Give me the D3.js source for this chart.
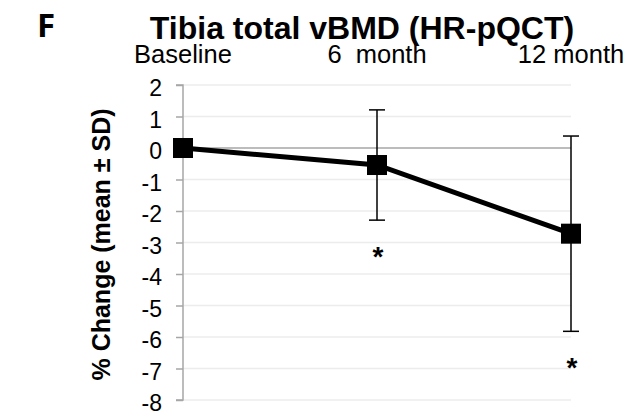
<!DOCTYPE html>
<html>
<head>
<meta charset="utf-8">
<script src="https://cdn.jsdelivr.net/npm/d3@7"></script>
<style>
  html, body { margin: 0; padding: 0; background: #fff; }
  svg { display: block; }
</style>
</head>
<body>
<svg id="chart" width="641" height="413"></svg>
<script>
// Time points, mean % change and SD for tibia total vBMD
const timepoints = ["Baseline", "6  month", "12 month"];
const meanChange = [0, -0.54, -2.72];
const sdChange = [0, 1.75, 3.1];
const significance = ["", "*", "*"];
const yTicks = [2, 1, 0, -1, -2, -3, -4, -5, -6, -7, -8];

const svg = d3.select("#chart");
const font = "Liberation Sans, Arial, sans-serif";

const x = d3.scalePoint().domain(timepoints).range([183, 571]);
const y = d3.scaleLinear().domain([-8, 2]).range([400, 85]);

// Light horizontal gridlines
svg.append("g")
  .selectAll("line")
  .data(yTicks.filter(d => d !== 0))
  .join("line")
  .attr("x1", x.range()[0]).attr("x2", x.range()[1])
  .attr("y1", d => y(d)).attr("y2", d => y(d))
  .attr("stroke", "#ececec").attr("stroke-width", 1.5);

// Zero reference line
svg.append("line")
  .attr("x1", x.range()[0]).attr("x2", x.range()[1])
  .attr("y1", y(0)).attr("y2", y(0))
  .attr("stroke", "#a6a6a6").attr("stroke-width", 1.5);

// Y axis
const yAxis = d3.axisLeft(y).tickValues(yTicks).tickSize(7).tickPadding(14)
  .tickFormat(d => d < 0 ? "-" + Math.abs(d) : String(d));
const gy = svg.append("g").attr("transform", `translate(${x.range()[0]},0)`).call(yAxis);
gy.select(".domain").attr("stroke", "#a6a6a6").attr("stroke-width", 1.5)
  .attr("d", `M-7,${y(2)}H0V${y(-8)}H-7`);
gy.selectAll(".tick line").attr("stroke", "#a6a6a6").attr("stroke-width", 1.5);
gy.selectAll(".tick text")
  .attr("font-family", font).attr("font-size", 23).attr("fill", "#000")
  .attr("dy", "0.47em");

// Time point labels along the top
svg.append("g")
  .selectAll("text")
  .data(timepoints)
  .join("text")
  .attr("x", d => x(d)).attr("y", 63)
  .attr("text-anchor", "middle")
  .attr("font-family", font).attr("font-size", 25.5)
  .style("white-space", "pre")
  .attr("xml:space", "preserve")
  .text(d => d);

// Error bars
const eb = svg.append("g").attr("stroke", "#000").attr("stroke-width", 1.5);
timepoints.forEach((t, i) => {
  if (sdChange[i] === 0) return;
  const cx = x(t);
  const hi = y(meanChange[i] + sdChange[i]);
  const lo = y(meanChange[i] - sdChange[i]);
  eb.append("line").attr("x1", cx).attr("x2", cx).attr("y1", hi).attr("y2", lo);
  eb.append("line").attr("x1", cx - 8).attr("x2", cx + 8).attr("y1", hi).attr("y2", hi);
  eb.append("line").attr("x1", cx - 8).attr("x2", cx + 8).attr("y1", lo).attr("y2", lo);
});

// Mean line
const line = d3.line().x((d, i) => x(timepoints[i])).y(d => y(d));
svg.append("path")
  .datum(meanChange)
  .attr("d", line)
  .attr("fill", "none").attr("stroke", "#000").attr("stroke-width", 5);

// Square markers
svg.append("g")
  .selectAll("rect")
  .data(meanChange)
  .join("rect")
  .attr("x", (d, i) => x(timepoints[i]) - 10)
  .attr("y", d => y(d) - 10)
  .attr("width", 20).attr("height", 20)
  .attr("fill", "#000");

// Significance markers below the lower error bars
svg.append("g")
  .selectAll("text")
  .data(significance)
  .join("text")
  .attr("x", (d, i) => x(timepoints[i]) + 1)
  .attr("y", (d, i) => y(meanChange[i] - sdChange[i]) + 46)
  .attr("text-anchor", "middle")
  .attr("font-family", font).attr("font-size", 28).attr("font-weight", "bold")
  .text(d => d);

// Title
svg.append("text")
  .attr("x", 362).attr("y", 39)
  .attr("text-anchor", "middle")
  .attr("font-family", font).attr("font-size", 32).attr("font-weight", "bold")
  .text("Tibia total vBMD (HR-pQCT)");

// Panel letter
svg.append("text")
  .attr("x", 37).attr("y", 37)
  .attr("font-family", "Open Sans, sans-serif").attr("font-size", 33).attr("font-weight", "bold")
  .text("F");

// Y axis title
svg.append("text")
  .attr("transform", `translate(110,${(y(2) + y(-8)) / 2 + 2}) rotate(-90)`)
  .attr("text-anchor", "middle")
  .attr("font-family", font).attr("font-size", 25).attr("font-weight", "bold")
  .text("% Change (mean ± SD)");
</script>
</body>
</html>
